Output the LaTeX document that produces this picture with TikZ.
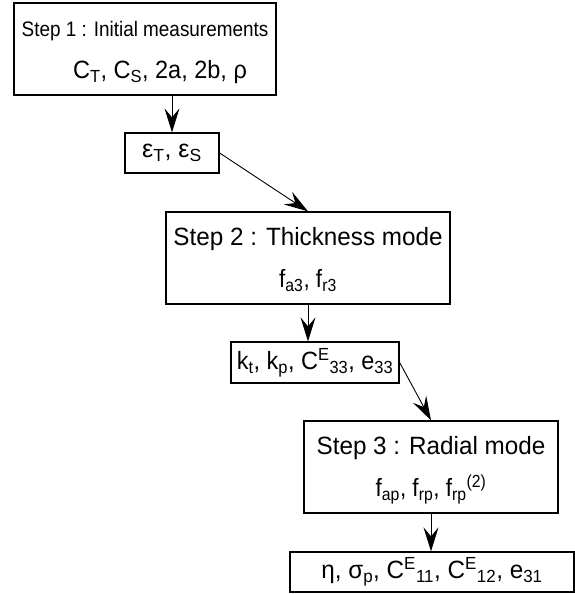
\documentclass[tikz,border=0pt]{standalone}
\usepackage{fontspec}
\setmainfont{Liberation Sans}
\usetikzlibrary{arrows.meta}

% squeezed cuts of the same face
\newfontfamily\headfont{Liberation Sans}[FakeStretch=0.97]
\newfontfamily\narrowfont{Liberation Sans}[FakeStretch=0.9]
\newfontfamily\valfont{Liberation Sans}[FakeStretch=0.94]
\newcommand\sz[1]{\fontsize{#1}{42}\selectfont}
% two-line step text: title, then the quantities measured
\newcommand\steptext[3][\narrowfont]{\begin{tabular}{@{}c@{}}#2\\{#1\sz{25}#3}\end{tabular}}

\begin{document}
\begin{tikzpicture}[x=1pt,y=1pt,>={Stealth[length=24pt,width=15pt,inset=9pt]},
  stepbox/.style={draw,line width=1.3pt,inner sep=0pt},
  valbox/.style={draw,line width=1.3pt,inner sep=0pt},
  link/.style={->,line width=0.9pt}]
  \useasboundingbox (0,0) rectangle (575,-594);
  \node[stepbox,minimum width=262,minimum height=92,font=\narrowfont\sz{21}] (step1) at (145,-49)
    {\steptext[\valfont]{Step 1 : Initial measurements}{\hspace*{30pt}C\textsubscript{T}, C\textsubscript{S}, 2a, 2b, ρ}};
  \node[valbox,minimum width=94,minimum height=40,font=\sz{25}] (eps) at (172,-153)
    {ε\textsubscript{T}, ε\textsubscript{S}};
  \node[stepbox,minimum width=284,minimum height=92,font=\headfont\sz{25}] (step2) at (308,-258)
    {\steptext{Step 2 : Thickness mode}{f\textsubscript{a3}, f\textsubscript{r3}}};
  \node[valbox,minimum width=168,minimum height=41,font=\valfont\sz{25}] (coupl) at (315,-362.5)
    {k\textsubscript{t}, k\textsubscript{p}, C\textsuperscript{E}\textsubscript{33}, e\textsubscript{33}};
  \node[stepbox,minimum width=254,minimum height=92,font=\headfont\sz{25}] (step3) at (431,-467)
    {\steptext{Step 3 : Radial mode}{f\textsubscript{ap}, f\textsubscript{rp}, f\textsubscript{rp}\textsuperscript{(2)}}};
  \node[valbox,minimum width=284,minimum height=40,font=\headfont\sz{25}] (elast) at (432,-572)
    {η, σ\textsubscript{p}, C\textsuperscript{E}\textsubscript{11}, C\textsuperscript{E}\textsubscript{12}, e\textsubscript{31}};

  \draw[link] (eps.north |- step1.south) -- (eps.north);
  \draw[link] (eps.east) -- (step2.north);
  \draw[link] (step2.south) -- (step2.south |- coupl.north);
  \draw[link] (coupl.east) -- (step3.north);
  \draw[link] (step3.south) -- (step3.south |- elast.north);
\end{tikzpicture}
\end{document}
